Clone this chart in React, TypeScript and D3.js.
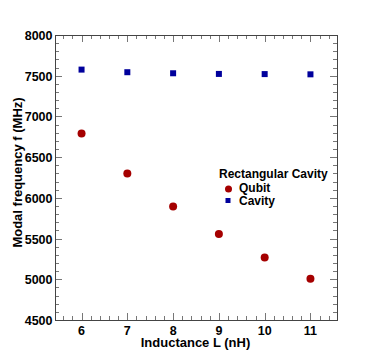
import React, { useRef, useEffect } from 'react';
import * as d3 from 'd3';

// valores
const inductance = [6, 7, 8, 9, 10, 11];
const qubitFreq = [6790, 6300, 5895, 5556, 5268, 5007];
const cavityFreq = [7575, 7543, 7530, 7522, 7520, 7517];
const xTicks = [6, 7, 8, 9, 10, 11];
const yTicks = [4500, 5000, 5500, 6000, 6500, 7000, 7500, 8000];

const W = 374;
const H = 357;

const App = () => {
  const ref = useRef<SVGSVGElement>(null);

  useEffect(() => {
    const svg = d3.select(ref.current);
    svg.selectAll('*').remove();

    const left = 55, right = 337, top = 35, bottom = 320;
    const font = 'Liberation Sans, Arial, Helvetica, sans-serif';

    const x = d3.scaleLinear().domain([5.42, 11.58]).range([left, right]);
    const y = d3.scaleLinear().domain([4500, 8000]).range([bottom, top]);

    const minorX = d3.range(5.6, 11.58, 0.2).filter(v => Math.abs(v - Math.round(v)) > 0.01);
    const minorY = d3.range(4600, 8000, 100).filter(v => v % 500 !== 0);

    const g = svg.append('g');
    const tickColor = '#777';

    // ticks (hacia dentro en los cuatro lados)
    const ticks = g.append('g').attr('stroke', tickColor).attr('stroke-width', 1);
    const addX = (vals: number[], len: number) => {
      vals.forEach(v => {
        const px = Math.round(x(v)) + 0.5;
        ticks.append('line').attr('x1', px).attr('x2', px).attr('y1', bottom).attr('y2', bottom - len);
        ticks.append('line').attr('x1', px).attr('x2', px).attr('y1', top).attr('y2', top + len);
      });
    };
    const addY = (vals: number[], len: number) => {
      vals.forEach(v => {
        const py = Math.round(y(v)) + 0.5;
        ticks.append('line').attr('y1', py).attr('y2', py).attr('x1', left).attr('x2', left + len);
        ticks.append('line').attr('y1', py).attr('y2', py).attr('x1', right).attr('x2', right - len);
      });
    };
    addX(xTicks, 7);
    addX(minorX, 4);
    addY(yTicks, 7);
    addY(minorY, 4);

    // marco
    g.append('rect')
      .attr('x', left + 0.5).attr('y', top + 0.5)
      .attr('width', right - left).attr('height', bottom - top)
      .attr('fill', 'none').attr('stroke', '#444').attr('stroke-width', 1);

    // etiquetas de los ticks
    g.selectAll('.xl').data(xTicks).enter().append('text')
      .attr('x', d => x(d)).attr('y', 335)
      .attr('text-anchor', 'middle')
      .style('font', `bold 12.5px ${font}`)
      .text(d => d);

    g.selectAll('.yl').data(yTicks).enter().append('text')
      .attr('x', 52.5).attr('y', d => y(d) + 5)
      .attr('text-anchor', 'end')
      .style('font', `bold 12.5px ${font}`)
      .text(d => d);

    // títulos de los ejes
    g.append('text')
      .attr('x', 195.5).attr('y', 346.5)
      .attr('text-anchor', 'middle')
      .style('font', `bold 13px ${font}`)
      .text('Inductance L (nH)');

    g.append('text')
      .attr('transform', `translate(21.5,${(top + bottom) / 2 - 5}) rotate(-90)`)
      .attr('text-anchor', 'middle')
      .style('font', `bold 13px ${font}`)
      .text('Modal frequency f (MHz)');

    // series
    g.selectAll('.q').data(inductance).enter().append('circle')
      .attr('cx', d => x(d)).attr('cy', (d, i) => y(qubitFreq[i]))
      .attr('r', 4).attr('fill', '#a50000');

    g.selectAll('.c').data(inductance).enter().append('rect')
      .attr('x', d => x(d) - 3).attr('y', (d, i) => y(cavityFreq[i]) - 3)
      .attr('width', 6).attr('height', 6).attr('fill', '#00009c');

    // leyenda
    const lg = g.append('g');
    lg.append('text').attr('x', 219).attr('y', 178)
      .style('font', `bold 12px ${font}`).text('Rectangular Cavity');
    lg.append('circle').attr('cx', 228.5).attr('cy', 189).attr('r', 3.5).attr('fill', '#a50000');
    lg.append('text').attr('x', 239).attr('y', 192)
      .style('font', `bold 12px ${font}`).text('Qubit');
    lg.append('rect').attr('x', 225.5).attr('y', 198).attr('width', 5).attr('height', 5).attr('fill', '#00009c');
    lg.append('text').attr('x', 239).attr('y', 204.5)
      .style('font', `bold 12px ${font}`).text('Cavity');
  }, []);

  return (
    <svg ref={ref} width={W} height={H}
      style={{ position: 'absolute', left: 0, top: 0, background: '#fff' }} />
  );
};

export default App;
